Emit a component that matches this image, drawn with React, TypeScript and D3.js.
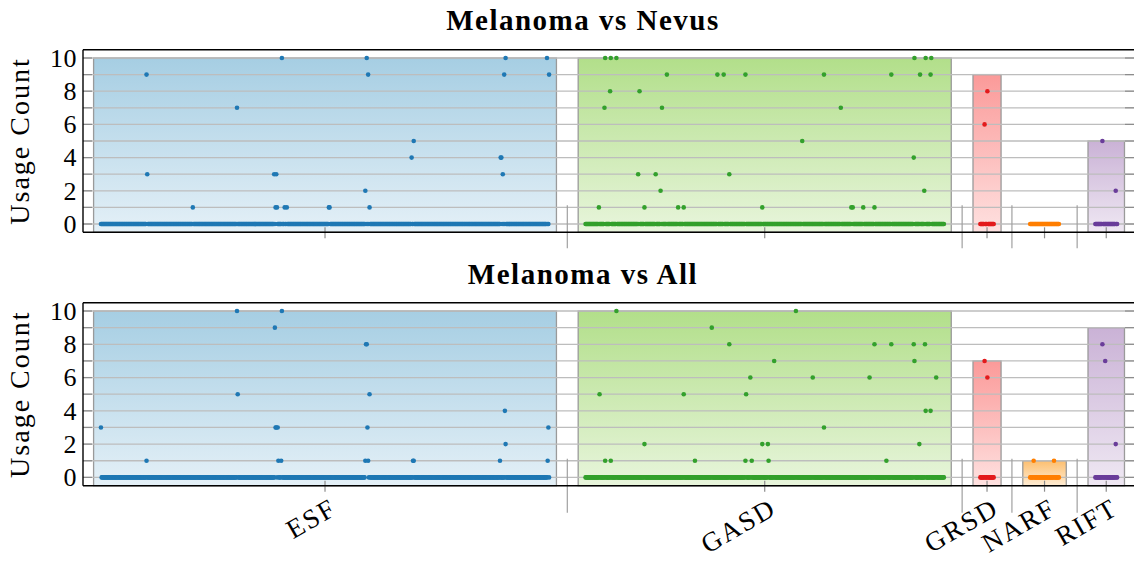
import React from 'react';
import * as d3 from 'd3';

// feature groups (descriptor types) and how many features each one has
const groups = ['ESF', 'GASD', 'GRSD', 'NARF', 'RIFT'];
const groupSizes = [640, 512, 20, 42, 32];
const darkColors = ['#1f78b4', '#33a02c', '#e31a1c', '#ff7f00', '#6a3d9a'];
const lightColors = ['#a6cee3', '#b2df8a', '#fb9a99', '#fdbf6f', '#cab2d6'];

const panelTitles = ['Melanoma vs Nevus', 'Melanoma vs All'];
const yTicks = [0, 2, 4, 6, 8, 10];

// bar height per group, one array per panel
const barTopNevus = [10, 10, 9, 0, 5];
const barTopAll = [10, 10, 7, 1, 9];

// non-zero usage counts: [feature index inside group, count]; everything else is 0
const nevusESF = [
  [65, 9], [66, 3], [131, 1], [194, 7], [247, 3], [250, 3], [249, 1], [251, 1],
  [258, 10], [262, 1], [265, 1], [325, 1], [326, 1], [377, 2], [379, 10], [381, 9],
  [383, 1], [443, 4], [446, 5], [570, 4], [571, 4], [573, 3], [575, 9], [577, 10],
  [636, 10], [639, 9],
];
const nevusGASD = [
  [19, 1], [27, 7], [28, 10], [35, 8], [36, 10], [44, 10], [75, 3], [77, 8],
  [84, 1], [100, 3], [107, 2], [109, 7], [116, 9], [132, 1], [140, 1], [188, 9],
  [197, 9], [205, 3], [228, 9], [252, 1], [309, 5], [340, 9], [364, 7], [379, 1],
  [381, 1], [396, 1], [412, 1], [436, 9], [468, 4], [469, 10], [477, 9], [483, 2],
  [485, 10], [492, 9], [493, 10],
];
const nevusGRSD = [[6, 6], [10, 8]];
const nevusNARF: number[][] = [];
const nevusRIFT = [[10, 5], [29, 2]];

const allESF = [
  [0, 3], [65, 1], [194, 10], [195, 5], [248, 9], [249, 3], [250, 3], [252, 3],
  [253, 1], [257, 1], [258, 10], [377, 1], [378, 8], [379, 8], [380, 3], [381, 1],
  [383, 5], [445, 1], [446, 1], [569, 1], [576, 4], [577, 2], [637, 1], [638, 3],
];
const allGASD = [
  [20, 5], [28, 1], [36, 1], [44, 10], [84, 2], [140, 5], [156, 1], [180, 9],
  [205, 8], [228, 1], [229, 5], [235, 6], [237, 1], [252, 2], [260, 2], [261, 1],
  [269, 7], [300, 10], [324, 6], [340, 3], [405, 6], [412, 8], [429, 1], [436, 8],
  [468, 8], [469, 7], [476, 2], [484, 8], [485, 4], [492, 4], [500, 6],
];
const allGRSD = [[6, 7], [10, 6]];
const allNARF = [[5, 1], [34, 1]];
const allRIFT = [[10, 8], [14, 7], [29, 2]];

const panelData = [
  [nevusESF, nevusGASD, nevusGRSD, nevusNARF, nevusRIFT],
  [allESF, allGASD, allGRSD, allNARF, allRIFT],
];
const panelBars = [barTopNevus, barTopAll];

const W = 1134;
const H = 562;
const GAP = 52;
const serif = '"Liberation Serif", "DejaVu Serif", serif';

// start index of every group on the shared x axis
const offsets: number[] = [];
groupSizes.forEach((n, i) => {
  offsets.push(i === 0 ? 0 : offsets[i - 1] + groupSizes[i - 1] - 1 + GAP);
});

const x = d3.scaleLinear().domain([-25.6, 1474.5]).range([83, 1135]);

const panels = [
  { top: 49.7, bottom: 232.3, titleY: 30, sepLow: 16 },
  { top: 302.7, bottom: 485.7, titleY: 284, sepLow: 27 },
];

const lighten = (c: string, t: number) => d3.interpolateRgb(c, '#ffffff')(t);

function Panel({ p, idx }: { p: typeof panels[0]; idx: number }) {
  const y = d3.scaleLinear().domain([-0.5, 10.5]).range([p.bottom, p.top]);
  const data = panelData[idx];
  const bars = panelBars[idx];
  const grid = d3.range(0, 11);

  const points: { gx: number; v: number; g: number }[] = [];
  groups.forEach((g, gi) => {
    const lookup = new Map(data[gi].map((d) => [d[0], d[1]]));
    for (let i = 0; i < groupSizes[gi]; i++) {
      points.push({ gx: offsets[gi] + i, v: lookup.get(i) ?? 0, g: gi });
    }
  });
  // zeros first so the scattered points sit on top
  points.sort((a, b) => (a.v === 0 ? 0 : 1) - (b.v === 0 ? 0 : 1));

  const seps = groups.slice(1).map((_, i) => (offsets[i] + groupSizes[i] - 1 + offsets[i + 1]) / 2);

  return (
    <g>
      <text x={583} y={p.titleY} textAnchor="middle" fontFamily={serif} fontWeight="bold" fontSize={29} letterSpacing={1.5}>
        {panelTitles[idx]}
      </text>

      {groups.map((g, gi) =>
        bars[gi] > 0 ? (
          <rect
            key={g}
            x={x(offsets[gi] - 10.5)}
            y={y(bars[gi])}
            width={x(offsets[gi] + groupSizes[gi] - 1 + 10.5) - x(offsets[gi] - 10.5)}
            height={y(-0.5) - y(bars[gi])}
            fill={`url(#grad${gi})`}
            stroke="#9a9a9a"
            strokeWidth={1.3}
          />
        ) : null
      )}

      {grid.map((v) => (
        <g key={v}>
          <line x1={83} x2={1135} y1={y(v)} y2={y(v)} stroke="#bdbdbd" strokeWidth={1.3} />
          <line x1={83} x2={92} y1={y(v)} y2={y(v)} stroke="#8c8c8c" strokeWidth={1.2} />
          <line x1={1125} x2={1135} y1={y(v)} y2={y(v)} stroke="#8c8c8c" strokeWidth={1.2} />
        </g>
      ))}

      {points.map((d, i) => (
        <circle key={i} cx={x(d.gx)} cy={y(d.v)} r={2.3} fill={darkColors[d.g]} />
      ))}

      {seps.map((s, i) => (
        <line key={i} x1={x(s)} x2={x(s)} y1={p.bottom - 27} y2={p.bottom + p.sepLow} stroke="#a0a0a0" strokeWidth={1.2} />
      ))}
      {groups.map((g, gi) => {
        const cx = x(offsets[gi] + (groupSizes[gi] - 1) / 2);
        return <line key={g} x1={cx} x2={cx} y1={p.bottom - 5} y2={p.bottom + 6} stroke="#8c8c8c" strokeWidth={1.2} />;
      })}

      <line x1={83} x2={1136} y1={p.top} y2={p.top} stroke="#000" strokeWidth={1.4} />
      <line x1={83} x2={1136} y1={p.bottom} y2={p.bottom} stroke="#000" strokeWidth={1.4} />
      <line x1={83} x2={83} y1={p.top} y2={p.bottom} stroke="#000" strokeWidth={1.4} />

      {yTicks.map((t) => (
        <text key={t} x={77} y={y(t)} dy="0.34em" textAnchor="end" fontFamily={serif} fontSize={26} letterSpacing={0.5}>
          {t}
        </text>
      ))}
      <text
        transform={`translate(29,${(p.top + p.bottom) / 2}) rotate(-90)`}
        textAnchor="middle"
        fontFamily={serif}
        fontSize={28}
        letterSpacing={2}
      >
        Usage Count
      </text>

      {idx === 1 &&
        groups.map((g, gi) => {
          const cx = x(offsets[gi] + (groupSizes[gi] - 1) / 2);
          return (
            <text
              key={g}
              transform={`translate(${cx + 4},${p.bottom + 11}) rotate(-30)`}
              y={19}
              textAnchor="end"
              fontFamily={serif}
              fontSize={27}
              letterSpacing={2}
            >
              {g}
            </text>
          );
        })}
    </g>
  );
}

export default function App() {
  return (
    <div style={{ position: 'absolute', left: 0, top: 0 }}>
      <svg width={W} height={H} style={{ display: 'block', background: '#fff' }}>
        <defs>
          {lightColors.map((c, i) => (
            <linearGradient key={i} id={`grad${i}`} x1="0" y1="0" x2="0" y2="1">
              <stop offset="0%" stopColor={c} />
              <stop offset="100%" stopColor={lighten(c, 0.7)} />
            </linearGradient>
          ))}
        </defs>
        {panels.map((p, i) => (
          <Panel key={i} p={p} idx={i} />
        ))}
      </svg>
    </div>
  );
}
